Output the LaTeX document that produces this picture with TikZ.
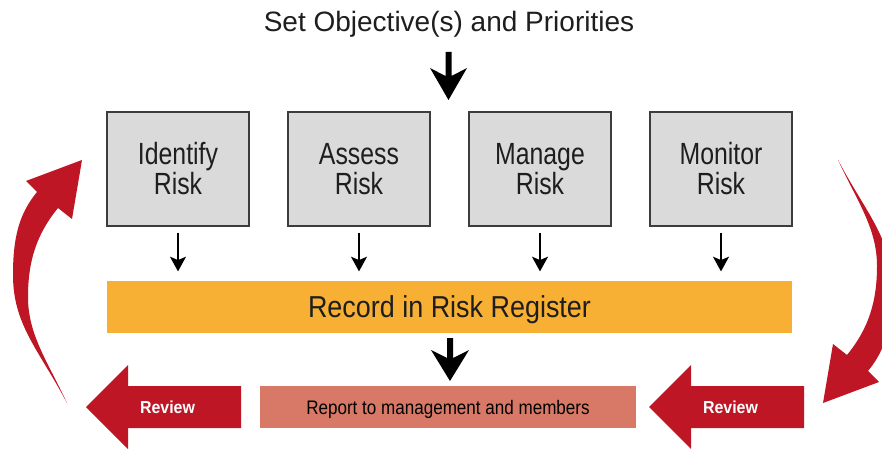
\documentclass[tikz,border=0pt]{standalone}
\usepackage{fontspec}
\setmainfont{Liberation Sans}
\newfontfamily\boxfont[FakeStretch=0.81]{Liberation Sans}
\newfontfamily\recfont[FakeStretch=0.89]{Liberation Sans}
\newfontfamily\repfont[FakeStretch=0.87]{Liberation Sans}
\newfontfamily\revfont[FakeStretch=0.92]{Liberation Sans}
\usetikzlibrary{arrows.meta}
\definecolor{redc}{RGB}{190,22,36}
\definecolor{orangec}{RGB}{248,176,52}
\definecolor{reportc}{RGB}{216,121,104}
\definecolor{grayc}{RGB}{218,218,218}
\definecolor{borderc}{RGB}{60,60,60}
\definecolor{textc}{RGB}{30,30,30}
\tikzset{
  stepbox/.style={draw=borderc, line width=1pt, fill=grayc, minimum width=106.5pt,
    minimum height=85.5pt, inner sep=0pt, align=center, text=textc,
    font=\boxfont\fontsize{23}{22.5}\selectfont},
  smallarr/.style={line width=1.1pt, -{Stealth[length=11pt,width=12pt,inset=2.5pt]},
    shorten <=4.5pt, shorten >=7pt},
  reviewtxt/.style={text=white, inner sep=0pt, font=\revfont\bfseries\fontsize{13}{15}\selectfont},
}
\begin{document}
\begin{tikzpicture}[x=0.75pt,y=-0.75pt]
\clip (0,0) rectangle (882,449);
\useasboundingbox (0,0) rectangle (882,449);
\fill[white] (0,0) rectangle (882,449);

% title
\node[text=textc, inner sep=0pt, font=\fontsize{21}{24}\selectfont] (title) at (449,24) {Set Objective(s) and Priorities};

% big arrow from title
\fill[black] (445.5,52) -- (445.5,76) -- (430,68) -- (448.5,100) -- (467,68) -- (451.5,76) -- (451.5,52) -- cycle;

% boxes
\node[stepbox] (id) at (178,169) {Identify\\Risk};
\node[stepbox] (as) at (359,169) {Assess\\Risk};
\node[stepbox] (ma) at (540,169) {Manage\\Risk};
\node[stepbox] (mo) at (721,169) {Monitor\\Risk};

% register bar
\node[fill=orangec, minimum width=513.75pt, minimum height=39pt, inner sep=0pt, text depth=0pt,
  text=textc, font=\recfont\fontsize{22.7}{26}\selectfont] (reg) at (449.5,307) {Record in Risk Register};

\foreach \b in {id,as,ma,mo}
  \draw[smallarr] (\b.south) -- (\b.south |- reg.north);

% big arrow to report
\fill[black] (447,338) -- (447,358) -- (431,350) -- (450,381) -- (469,350) -- (453,358) -- (453,338) -- cycle;

% report box
\node[fill=reportc, minimum width=282pt, minimum height=31.5pt, inner sep=0pt, text depth=0pt,
  text=black, font=\repfont\fontsize{14.7}{17}\selectfont] (rep) at (448,407) {Report to management and members};

% review arrows
\fill[redc] (86,407) -- (128,365) -- (128,386) -- (241,386) -- (241,428) -- (128,428) -- (128,449) -- cycle;
\node[reviewtxt] (revL) at (167.5,407) {Review};
\fill[redc] (649,407) -- (691,365) -- (691,386) -- (804,386) -- (804,428) -- (691,428) -- (691,449) -- cycle;
\node[reviewtxt] (revR) at (730.5,407) {Review};

% curved arrows
\def\curvedarrow{(67,403) .. controls (39,350) and (13,325) .. (13,275)
  .. controls (13,240) and (18,215) .. (37,192)
  -- (26,181) -- (82,160) -- (72,219) -- (58,208)
  .. controls (36,235) and (28,262) .. (28,297)
  .. controls (28,335) and (48,362) .. (67,403) -- cycle}
\fill[redc] \curvedarrow;
\begin{scope}[rotate around={180:(452.5,281.5)}]
\fill[redc] \curvedarrow;
\end{scope}
\end{tikzpicture}
\end{document}
